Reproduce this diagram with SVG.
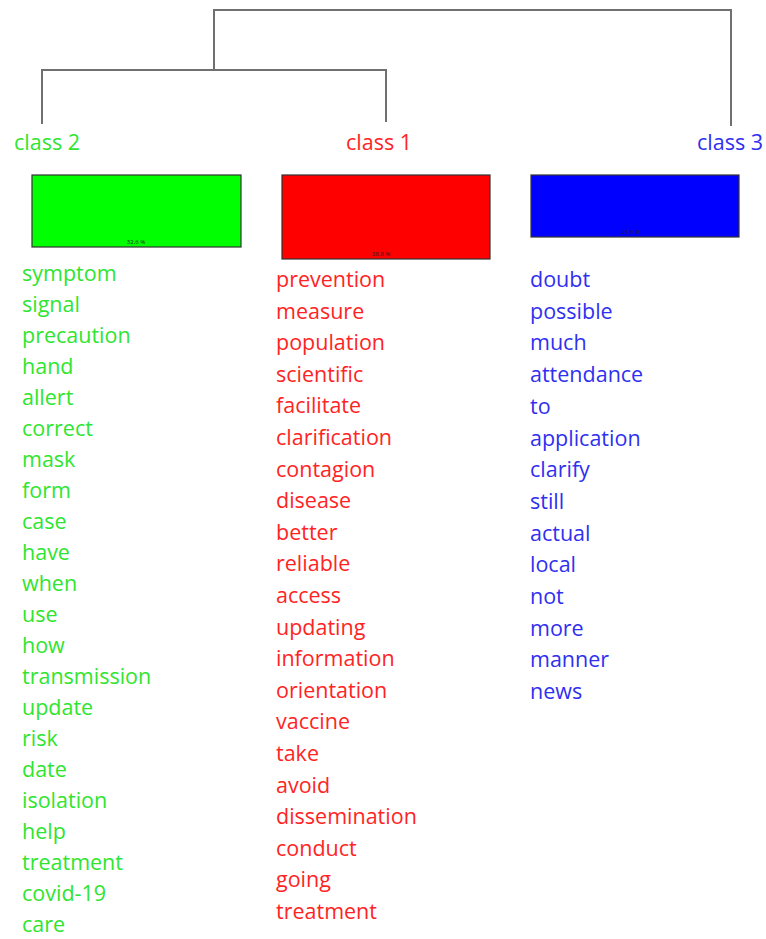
<svg xmlns="http://www.w3.org/2000/svg" width="766" height="939" viewBox="0 0 766 939">
<style>
text{font-family:"Open Sans","Noto Sans",sans-serif;font-size:21.5px}
.g{fill:#2fe52f}.r{fill:#ff2424}.b{fill:#2f2ff0}
.bar{stroke:#333;stroke-width:1.2}
.pct{font-size:6px;fill:#222;text-anchor:middle}
.edge{fill:none;stroke:#707070;stroke-width:2}
</style>
<rect width="766" height="939" fill="#fff"/>
<g id="connectors">
<path class="edge" d="M214 70 V10 H731 V126"/>
<path class="edge" d="M42 124 V70 H386 V122"/>
</g>
<g id="class2">
<text class="g" x="47" y="150" text-anchor="middle">class 2</text>
<rect class="bar" x="32" y="175" width="209" height="72" fill="#00ff00"/>
<text class="pct" x="136" y="244">32.6 %</text>
<text class="g" x="22">
<tspan x="22" y="281">symptom</tspan>
<tspan x="22" y="312">signal</tspan>
<tspan x="22" y="343">precaution</tspan>
<tspan x="22" y="374">hand</tspan>
<tspan x="22" y="405">allert</tspan>
<tspan x="22" y="436">correct</tspan>
<tspan x="22" y="467">mask</tspan>
<tspan x="22" y="498">form</tspan>
<tspan x="22" y="529">case</tspan>
<tspan x="22" y="560">have</tspan>
<tspan x="22" y="591">when</tspan>
<tspan x="22" y="622">use</tspan>
<tspan x="22" y="653">how</tspan>
<tspan x="22" y="684">transmission</tspan>
<tspan x="22" y="715">update</tspan>
<tspan x="22" y="746">risk</tspan>
<tspan x="22" y="777">date</tspan>
<tspan x="22" y="808">isolation</tspan>
<tspan x="22" y="839">help</tspan>
<tspan x="22" y="870">treatment</tspan>
<tspan x="22" y="901">covid-19</tspan>
<tspan x="22" y="932">care</tspan>
</text>
</g>
<g id="class1">
<text class="r" x="379" y="150" text-anchor="middle">class 1</text>
<rect class="bar" x="282" y="175" width="208" height="84" fill="#ff0000"/>
<text class="pct" x="381" y="256">38.8 %</text>
<text class="r">
<tspan x="276" y="287">prevention</tspan>
<tspan x="276" y="318.6">measure</tspan>
<tspan x="276" y="350.2">population</tspan>
<tspan x="276" y="381.8">scientific</tspan>
<tspan x="276" y="413.4">facilitate</tspan>
<tspan x="276" y="445">clarification</tspan>
<tspan x="276" y="476.6">contagion</tspan>
<tspan x="276" y="508.2">disease</tspan>
<tspan x="276" y="539.8">better</tspan>
<tspan x="276" y="571.4">reliable</tspan>
<tspan x="276" y="603">access</tspan>
<tspan x="276" y="634.6">updating</tspan>
<tspan x="276" y="666.2">information</tspan>
<tspan x="276" y="697.8">orientation</tspan>
<tspan x="276" y="729.4">vaccine</tspan>
<tspan x="276" y="761">take</tspan>
<tspan x="276" y="792.6">avoid</tspan>
<tspan x="276" y="824.2">dissemination</tspan>
<tspan x="276" y="855.8">conduct</tspan>
<tspan x="276" y="887.4">going</tspan>
<tspan x="276" y="919">treatment</tspan>
</text>
</g>
<g id="class3">
<text class="b" x="730" y="150" text-anchor="middle">class 3</text>
<rect class="bar" x="531" y="175" width="208" height="62" fill="#0000ff"/>
<text class="pct" x="631" y="234">28.6 %</text>
<text class="b">
<tspan x="530" y="287">doubt</tspan>
<tspan x="530" y="318.7">possible</tspan>
<tspan x="530" y="350.4">much</tspan>
<tspan x="530" y="382.1">attendance</tspan>
<tspan x="530" y="413.8">to</tspan>
<tspan x="530" y="445.5">application</tspan>
<tspan x="530" y="477.2">clarify</tspan>
<tspan x="530" y="508.8">still</tspan>
<tspan x="530" y="540.5">actual</tspan>
<tspan x="530" y="572.2">local</tspan>
<tspan x="530" y="603.9">not</tspan>
<tspan x="530" y="635.6">more</tspan>
<tspan x="530" y="667.3">manner</tspan>
<tspan x="530" y="699">news</tspan>
</text>
</g>
</svg>
